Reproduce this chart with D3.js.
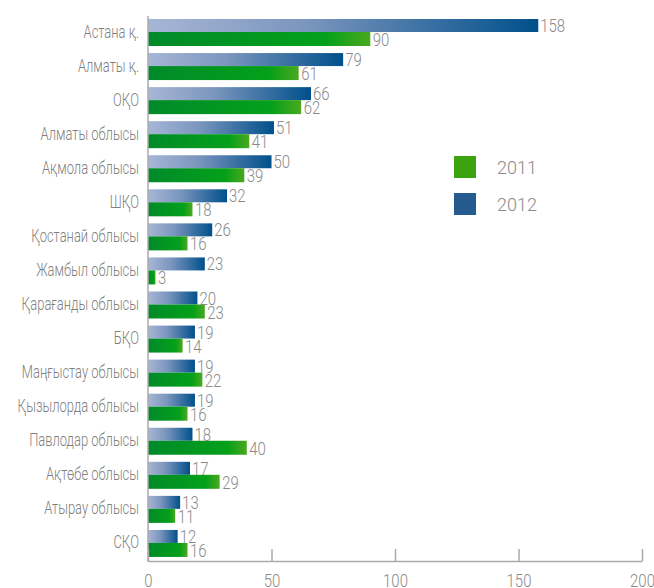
<!DOCTYPE html>
<html><head><meta charset="utf-8">
<script src="https://cdn.jsdelivr.net/npm/d3@7"></script>
<style>
body{margin:0;background:#fff;}
text{font-family:Roboto,"Liberation Sans",sans-serif;}
</style></head>
<body><svg id="c" width="654" height="588"></svg>
<script>
const categories = ["Астана қ.","Алматы қ.","ОҚО","Алматы облысы","Ақмола облысы","ШҚО","Қостанай облысы","Жамбыл облысы","Қарағанды облысы","БҚО","Маңғыстау облысы","Қызылорда облысы","Павлодар облысы","Ақтөбе облысы","Атырау облысы","СҚО"];
const values2012 = [158,79,66,51,50,32,26,23,20,19,19,19,18,17,13,12];
const values2011 = [90,61,62,41,39,18,16,3,23,14,22,16,40,29,11,16];
const xTicks = [0,50,100,150,200];
const seriesNames = ["2011","2012"];

const svg = d3.select("#c");
const x = d3.scaleLinear().domain([0,200]).range([148,642]);
const y = d3.scaleBand().domain(categories).range([16,561]);

const defs = svg.append("defs");
const gb = defs.append("linearGradient").attr("id","gb");
gb.append("stop").attr("offset","0%").attr("stop-color","#a7b6d5");
gb.append("stop").attr("offset","40%").attr("stop-color","#7c96be");
gb.append("stop").attr("offset","100%").attr("stop-color","#00508b");
const gg = defs.append("linearGradient").attr("id","gg");
gg.append("stop").attr("offset","0%").attr("stop-color","#008a2a");
gg.append("stop").attr("offset","80%").attr("stop-color","#04a01a");
gg.append("stop").attr("offset","100%").attr("stop-color","#4aa91f");

const SX = 0.74, SN = 0.83;
function ctext(sel, fx, fy, size, fill, anchor, txt, sx){
  sel.append("text")
    .attr("transform",(d,i)=>`translate(${fx(d,i)},${fy(d,i)}) scale(${sx},1)`)
    .attr("font-size",size).attr("font-weight",300).attr("fill",fill)
    .attr("text-anchor",anchor).text(txt);
}

const rows = svg.append("g").selectAll("g").data(categories).join("g")
  .attr("transform", d => `translate(0,${y(d)})`);

rows.append("rect").attr("x", x(0)).attr("y", 3)
  .attr("width", (d,i) => x(values2012[i]) - x(0)).attr("height", 13).attr("fill","url(#gb)");
rows.append("rect").attr("x", x(0)).attr("y", 16)
  .attr("width", (d,i) => x(values2011[i]) - x(0)).attr("height", 14).attr("fill","url(#gg)");

ctext(rows,(d,i)=>x(values2012[i])+2,()=>16,18,"#8a8a8a","start",(d,i)=>values2012[i],SN);
ctext(rows,(d,i)=>x(values2011[i])+2.5,()=>30,18,"#8a8a8a","start",(d,i)=>values2011[i],SN);
ctext(rows,()=>139,()=>21.5,17.5,"#808080","end",d=>d,SX);

// axes
svg.append("line").attr("x1",x(0)).attr("x2",x(0)).attr("y1",16).attr("y2",562)
  .attr("stroke","#aaa").attr("stroke-width",1.5);
const xa = svg.append("g").attr("transform","translate(0,561)")
  .call(d3.axisBottom(x).tickValues(xTicks).tickSize(0).tickPadding(0));
xa.select(".domain").attr("stroke","#aaa").attr("stroke-width",1.5);
xa.selectAll(".tick line").attr("y1",-12).attr("y2",0).attr("stroke","#aaa").attr("stroke-width",1.5);
xa.selectAll(".tick text").remove();
xa.selectAll(".tick").each(function(d){
  d3.select(this).append("text").attr("transform",`translate(0,25.5) scale(${SN},1)`)
    .attr("font-size",18).attr("font-weight",300).attr("fill","#8a8a8a")
    .attr("text-anchor","middle").text(d);
});

// legend
const leg = svg.append("g");
const legColors = ["#3aa30e","#245a8e"];
seriesNames.forEach((s,i)=>{
  leg.append("rect").attr("x",454).attr("y",156+i*37).attr("width",22).attr("height",22).attr("fill",legColors[i]);
  leg.append("text").attr("x",497).attr("y",174+i*37)
    .attr("font-weight",300).attr("font-size",18).attr("fill","#8a8a8a").text(s);
});
</script></body></html>
